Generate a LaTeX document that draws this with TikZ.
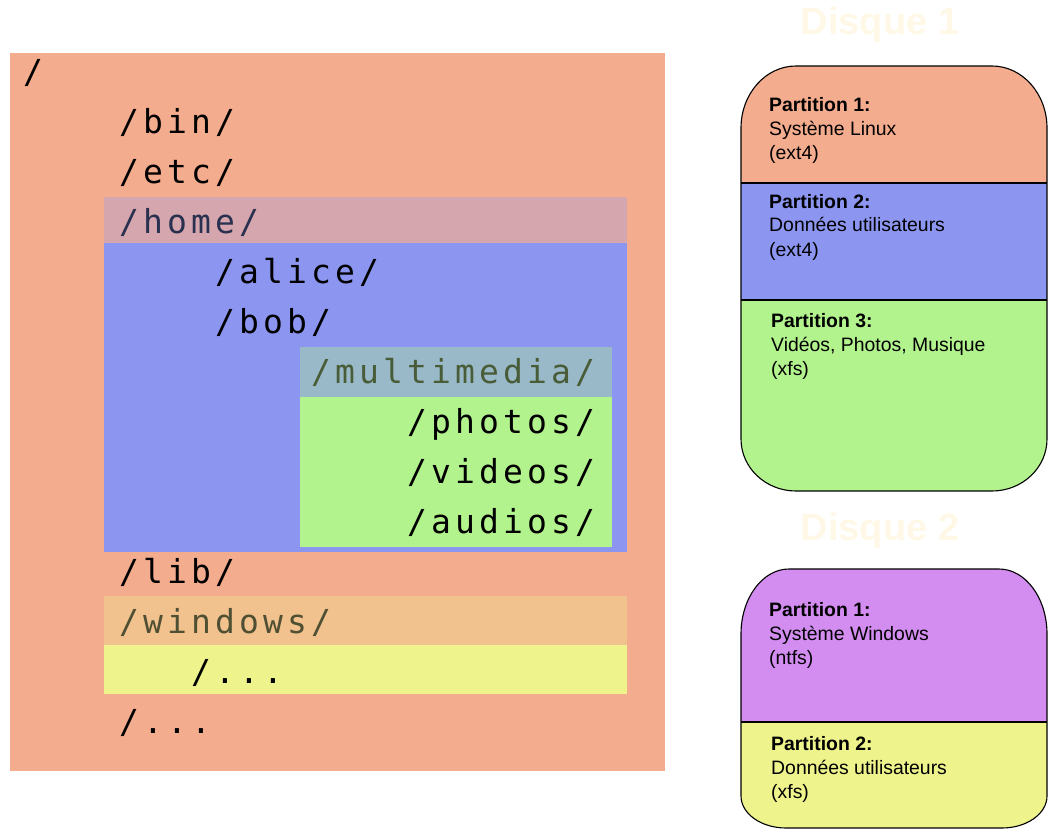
\documentclass[tikz,border=0pt]{standalone}
\usepackage{fontspec}
\setmainfont{Liberation Sans}
\newfontfamily\dirfont[LetterSpace=12.5]{DejaVu Sans Mono}
\definecolor{salmon}{HTML}{F4AC8E}
\definecolor{bluebox}{HTML}{8C96F0}
\definecolor{greenbox}{HTML}{B3F38E}
\definecolor{homehead}{HTML}{D5A6AD}
\definecolor{mmhead}{HTML}{9AB9C8}
\definecolor{winhead}{HTML}{F2C28E}
\definecolor{yellowbox}{HTML}{EEF38C}
\definecolor{purplebox}{HTML}{D38CF0}
\definecolor{titlecol}{HTML}{FFF8E7}
\definecolor{hometext}{HTML}{2A3050}
\definecolor{mmtext}{HTML}{485C38}
\definecolor{wintext}{HTML}{4F5033}
\def\diskA{(741,128) .. controls (741,93.76) and (765.62,66) .. (796,66)
 -- (992,66) .. controls (1022.38,66) and (1047,93.76) .. (1047,128)
 -- (1047,439) .. controls (1047,467.72) and (1022.38,491) .. (992,491)
 -- (796,491) .. controls (765.62,491) and (741,467.72) .. (741,439) -- cycle}
\def\diskB{(741,634) .. controls (741,598.1) and (762.49,569) .. (789,569)
 -- (999,569) .. controls (1025.51,569) and (1047,598.1) .. (1047,634)
 -- (1047,796) .. controls (1047,813.67) and (1026.85,828) .. (1002,828)
 -- (786,828) .. controls (761.15,828) and (741,813.67) .. (741,796) -- cycle}
\begin{document}
\begin{tikzpicture}[x=1pt,y=-1pt,
 dir/.style={anchor=base west,inner sep=0pt,font=\dirfont\fontsize{33}{33}\selectfont},
 part/.style={anchor=base west,inner sep=0pt,font=\fontsize{19.4}{24}\selectfont},
 partb/.style={part,font=\bfseries\fontsize{19.4}{24}\selectfont},
 ttl/.style={anchor=base,inner sep=0pt,text=titlecol,font=\bfseries\fontsize{38}{38}\selectfont},
 outline/.style={draw=black,line width=1.1pt}]
\useasboundingbox (0,0) rectangle (1057,837);
% left tree panel
\fill[salmon] (10,53) rectangle (665,771);
\fill[homehead] (104,197) rectangle (627,243);
\fill[bluebox] (104,243) rectangle (627,552);
\fill[mmhead] (300,347) rectangle (612,397);
\fill[greenbox] (300,397) rectangle (612,547);
\fill[winhead] (104,596) rectangle (627,645);
\fill[yellowbox] (104,645) rectangle (627,694);
\node[dir] (root) at (23,83.5) {/};
\node[dir] (bin) at (119,133.5) {/bin/};
\node[dir] (etc) at (119,183.5) {/etc/};
\node[dir,text=hometext] (home) at (119,233.5) {/home/};
\node[dir] (alice) at (215,283.5) {/alice/};
\node[dir] (bob) at (215,333.5) {/bob/};
\node[dir,text=mmtext] (mm) at (311,383.5) {/multimedia/};
\node[dir] (photos) at (407,433.5) {/photos/};
\node[dir] (videos) at (407,483.5) {/videos/};
\node[dir] (audios) at (407,533.5) {/audios/};
\node[dir] (lib) at (119,583.5) {/lib/};
\node[dir,text=wintext] (win) at (119,633.5) {/windows/};
\node[dir] (windots) at (191,683.5) {/...};
\node[dir] (rootdots) at (119,733.5) {/...};
% disk 1
\node[ttl] (t1) at (880,35) {Disque 1};
\begin{scope}
\clip \diskA;
\fill[salmon] (741,66) rectangle (1047,183);
\fill[bluebox] (741,183) rectangle (1047,300);
\fill[greenbox] (741,300) rectangle (1047,491);
\end{scope}
\draw[outline] \diskA;
\coordinate (s1l) at (741,183); \coordinate (s1r) at (1047,183);
\coordinate (s2l) at (741,300); \coordinate (s2r) at (1047,300);
\draw[outline] (s1l) -- (s1r);
\draw[outline] (s2l) -- (s2r);
\node[partb] (a1h) at (769,111.5) {Partition 1:};
\node[part] (a1a) at (769,135.5) {Système Linux};
\node[part] (a1b) at (769,159.5) {(ext4)};
\node[partb] (a2h) at (769,208) {Partition 2:};
\node[part] (a2a) at (769,232) {Données utilisateurs};
\node[part] (a2b) at (769,256) {(ext4)};
\node[partb] (a3h) at (771,327) {Partition 3:};
\node[part] (a3a) at (771,351) {Vidéos, Photos, Musique};
\node[part] (a3b) at (771,375) {(xfs)};
% disk 2
\node[ttl] (t2) at (880,540) {Disque 2};
\begin{scope}
\clip \diskB;
\fill[purplebox] (741,569) rectangle (1047,722);
\fill[yellowbox] (741,722) rectangle (1047,828);
\end{scope}
\draw[outline] \diskB;
\coordinate (s3l) at (741,722); \coordinate (s3r) at (1047,722);
\draw[outline] (s3l) -- (s3r);
\node[partb] (b1h) at (769,616) {Partition 1:};
\node[part] (b1a) at (769,640) {Système Windows};
\node[part] (b1b) at (769,664) {(ntfs)};
\node[partb] (b2h) at (771,750.5) {Partition 2:};
\node[part] (b2a) at (771,774.5) {Données utilisateurs};
\node[part] (b2b) at (771,798.5) {(xfs)};
\end{tikzpicture}
\end{document}
